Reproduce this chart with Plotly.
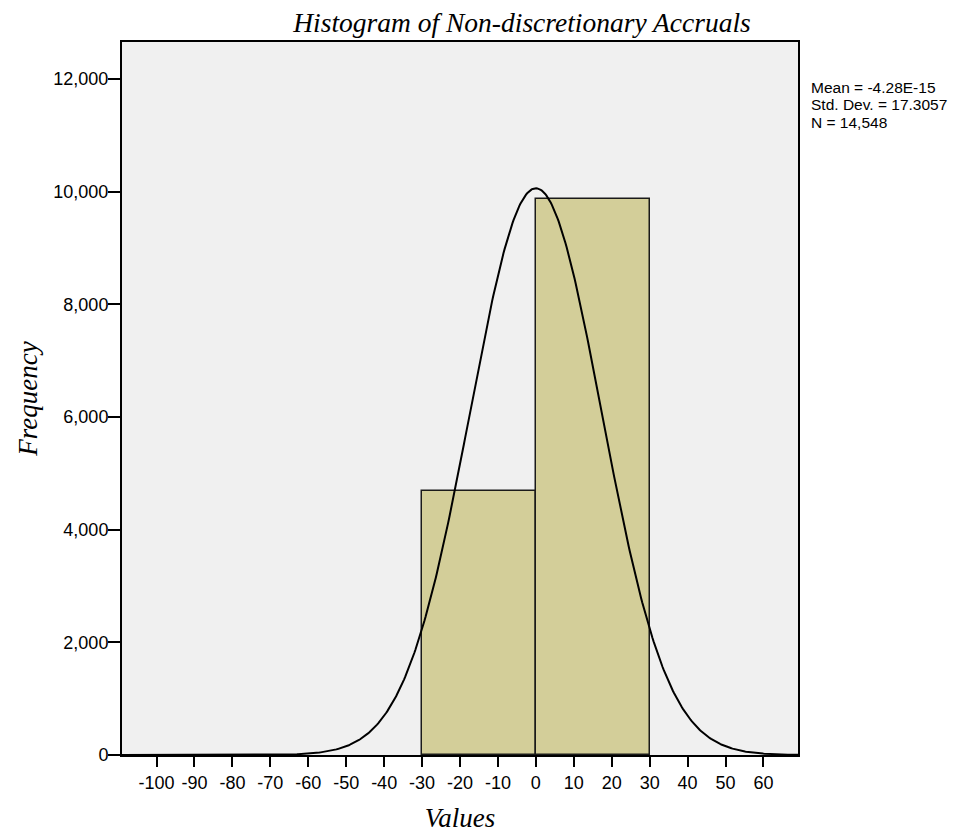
import numpy as np
import plotly.graph_objects as go

# ---- data ----
bin_left = [-30, 0]
bin_width = 30
bin_counts = [4680, 9868]
mean_val = -4.28e-15
std_dev = 17.3057
n_obs = 14548
x_ticks = [-100, -90, -80, -70, -60, -50, -40, -30, -20, -10, 0, 10, 20, 30, 40, 50, 60]
y_ticks = [0, 2000, 4000, 6000, 8000, 10000, 12000]
y_tick_labels = ["0", "2,000", "4,000", "6,000", "8,000", "10,000", "12,000"]

x_range = [-109.1, 69.1]
y_range = [0, 12658]

# fitted normal curve (from stated mean / std / N)
xs = np.linspace(x_range[0], x_range[1], 600)
ys = n_obs * bin_width / (std_dev * np.sqrt(2 * np.pi)) * np.exp(-0.5 * ((xs - mean_val) / std_dev) ** 2)

fig = go.Figure()
fig.add_trace(go.Bar(
    x=[b + bin_width / 2 for b in bin_left], y=bin_counts, width=[bin_width] * len(bin_left),
    marker=dict(color="#D3CE99", line=dict(color="#1a1a1a", width=1.5)),
    showlegend=False, hoverinfo="skip"))
fig.add_trace(go.Scatter(x=xs, y=ys, mode="lines", line=dict(color="black", width=2),
                         showlegend=False, hoverinfo="skip"))

axis_font = dict(family="Liberation Sans, Arial, sans-serif", size=18, color="black")
title_font = dict(family="Liberation Serif, Times New Roman, serif", size=27.5, color="black")
axtitle_font = dict(family="Liberation Serif, Times New Roman, serif", size=27, color="black")

fig.update_layout(
    width=978, height=833,
    margin=dict(l=122, r=180, t=42, b=78, autoexpand=False),
    paper_bgcolor="white", plot_bgcolor="#F0F0F0",
    title=dict(text="<i>Histogram of Non-discretionary Accruals</i>", font=title_font,
               x=(522 - 122) / 676, xref="paper", xanchor="center",
               y=1 - 22 / 833, yref="container", yanchor="middle"),
    xaxis=dict(range=x_range, tickvals=x_ticks, ticktext=[str(v) for v in x_ticks],
               showgrid=False, zeroline=False, showline=True, mirror=True, automargin=False,
               linecolor="black", linewidth=2, ticks="outside", ticklen=10, tickwidth=2,
               tickcolor="black", tickfont=axis_font,
               title=dict(text="<i>Values</i>", font=axtitle_font, standoff=19)),
    yaxis=dict(range=y_range, tickvals=y_ticks, ticktext=y_tick_labels,
               showgrid=False, zeroline=False, showline=True, mirror=True, automargin=False,
               linecolor="black", linewidth=2, ticks="outside", ticklen=12, tickwidth=2,
               tickcolor="black", tickfont=axis_font, ticklabelstandoff=-4,
               title=dict(text="<i>Frequency</i>", font=axtitle_font, standoff=8)),
    bargap=0,
)

stats_lines = ["Mean = -4.28E-15", "Std. Dev. = 17.3057", "N = 14,548"]
stat_y_px = [87.5, 105, 122.5]
for txt, ypx in zip(stats_lines, stat_y_px):
    fig.add_annotation(text=txt, xref="paper", yref="paper",
                       x=(810.5 - 122) / 676, y=(755 - ypx) / 713,
                       xanchor="left", yanchor="middle", showarrow=False, borderpad=0,
                       font=dict(family="Liberation Sans, Arial, sans-serif", size=15.5, color="black"))

fig.write_html("out.html")
